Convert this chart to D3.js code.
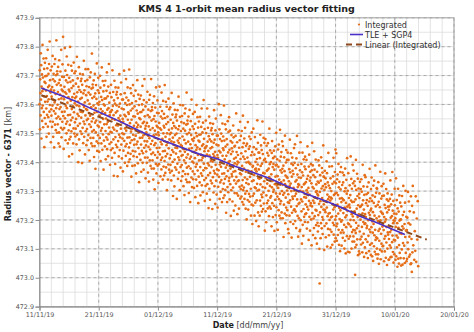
<!DOCTYPE html>
<html>
<head>
<meta charset="utf-8">
<script src="https://cdn.jsdelivr.net/npm/d3@7"></script>
<style>
  body { margin: 0; background: #fff; }
  text { font-family: "DejaVu Sans", Verdana, sans-serif; }
</style>
</head>
<body>
<svg id="chart" width="474" height="332"></svg>
<script>
// time axis
const startDate = '2019-11-11';
const endDate = '2020-01-20';
const xTickDates = ['2019-11-11', '2019-11-21', '2019-12-01', '2019-12-11', '2019-12-21', '2019-12-31', '2020-01-10', '2020-01-20'];
const yTicks = [472.9, 473.0, 473.1, 473.2, 473.3, 473.4, 473.5, 473.6, 473.7, 473.8, 473.9];

// 1-orbit means, one string per day since 11/11/19,
// metres above 473 km (radius - 6371 km)
const integratedByDay = [
  "601 718 514 687 639 562 777 617 736 482 662 587 704 543 646 806 596 693 521 654 759 574 628 723 452 678 553 744 609 698",
  "674 533 648 760 586 488 699 629 564 725 610 789 523 660 556 706 618 499 740 665 575 818 598 684 541 641 718 469 651 583",
  "561 627 731 522 660 596 768 540 687 488 616 706 577 648 451 740 607 680 530 757 568 636 511 701 587 822 552 668 502 715",
  "705 599 531 643 730 558 465 674 618 503 753 584 685 454 634 550 714 591 666 519 789 621 486 651 574 696 540 739 513 646 834",
  "560 628 446 695 618 518 661 575 795 552 642 717 476 595 683 533 637 500 766 587 702 541 606 676 465 563 737 625 510 651 420",
  "692 479 645 529 799 564 678 488 613 545 734 507 657 584 717 428 625 554 683 593 465 664 517 745 573 637 499 708 604 538",
  "622 489 715 516 672 550 627 462 597 765 495 642 567 690 526 610 400 661 560 729 479 594 650 441 534 706 619 507 575 681",
  "643 554 689 498 623 397 668 573 519 704 599 466 638 541 751 591 488 649 532 607 427 681 562 722 507 584 632 459 663 546",
  "515 581 685 476 614 550 722 494 641 442 570 660 531 602 405 694 561 634 484 711 522 590 465 655 541 776 506 622 456 669",
  "658 552 484 596 683 511 418 627 571 456 706 537 638 377 587 503 667 544 619 472 742 574 439 604 527 649 493 692 466 599",
  "523 640 436 609 561 484 699 539 658 404 584 509 626 465 568 728 518 615 443 576 681 496 550 645 374 600 475 666 531 620",
  "596 455 570 682 508 410 621 551 486 647 532 711 445 582 478 628 540 421 662 587 497 740 520 606 463 563 640 391 573 505",
  "575 442 668 469 625 503 580 415 550 718 448 595 520 643 479 563 353 614 513 682 432 547 603 394 487 659 572 460 528 634",
  "597 508 643 452 577 351 622 527 473 658 553 420 592 495 705 545 442 603 486 561 381 635 516 676 461 538 586 413 617 500",
  "482 550 368 617 540 440 583 497 717 474 564 639 398 517 605 455 559 422 688 509 624 463 528 598 387 485 659 547 432 573",
  "614 401 567 451 721 486 600 410 535 467 656 429 579 506 639 350 547 476 605 515 387 586 439 667 495 559 421 630 526 460",
  "479 593 389 558 514 437 648 492 611 361 537 462 579 418 521 684 471 568 396 529 634 449 503 598 331 553 428 619 484 573",
  "549 408 523 631 461 367 574 504 439 600 485 664 398 535 431 581 493 374 615 540 450 688 473 559 416 516 593 344 526 458",
  "437 503 607 398 536 472 644 416 563 364 492 582 453 524 333 616 483 556 406 633 444 512 387 577 463 688 428 544 378 591",
  "580 474 406 518 605 433 340 549 493 378 628 459 560 306 509 425 589 466 541 394 659 496 361 526 449 571 415 614 388 521",
  "435 503 328 570 493 393 536 450 662 427 517 592 351 470 558 408 512 375 641 462 577 416 481 551 340 438 612 500 385 526",
  "567 354 520 404 667 439 553 363 488 420 609 382 532 459 592 303 500 429 558 468 340 539 392 620 448 512 374 583 479 413",
  "497 364 590 391 547 425 502 337 472 640 370 517 442 565 401 485 283 536 435 604 354 469 525 316 409 581 494 382 450 556",
  "519 430 565 374 499 273 544 449 395 580 475 342 514 417 627 467 364 525 408 483 303 557 438 598 383 460 508 335 539 422",
  "390 456 560 351 489 425 597 369 516 317 445 535 406 477 286 569 436 509 359 586 397 465 340 530 416 641 381 497 331 544",
  "533 427 359 471 558 386 293 502 446 331 581 412 513 262 462 378 542 419 494 347 617 449 314 479 402 524 368 567 341 474",
  "398 515 311 484 436 359 574 414 533 279 459 384 501 340 443 598 393 490 318 451 556 371 425 520 258 475 350 541 406 495",
  "471 330 445 557 383 285 496 426 361 522 407 586 320 457 353 503 415 296 537 462 372 615 395 481 338 438 515 266 448 380",
  "451 318 544 345 501 379 456 291 426 586 324 471 396 519 355 439 241 490 389 558 308 423 479 270 363 535 448 336 404 510",
  "472 383 518 327 452 238 497 402 348 533 428 295 467 370 580 420 317 478 361 436 256 510 391 551 336 413 461 288 492 375",
  "357 425 243 492 415 315 458 372 601 349 439 514 273 392 480 330 434 297 563 384 499 338 403 473 262 360 534 422 307 448",
  "489 276 442 326 596 361 475 285 410 342 531 304 454 381 514 225 422 351 480 390 262 461 314 542 370 434 296 505 401 335",
  "556 346 443 271 404 509 324 378 473 214 428 303 494 359 448 351 468 264 437 389 312 527 367 486 232 412 337 454 293 396",
  "457 369 250 491 416 326 569 349 435 292 392 469 220 402 334 425 284 399 511 337 239 450 380 315 476 361 540 274 411 307",
  "491 358 431 281 508 319 387 262 452 338 561 303 419 253 466 312 378 482 273 411 347 519 291 438 239 367 457 328 399 202",
  "300 464 341 416 269 539 371 236 401 324 446 290 489 263 396 455 349 281 393 480 308 215 424 368 253 503 334 435 186 384",
  "283 387 250 516 337 452 291 356 426 215 313 487 375 260 401 310 378 196 445 368 268 411 325 545 302 392 467 226 345 433",
  "178 375 304 433 343 215 414 267 495 323 387 249 458 354 288 442 229 395 279 541 314 428 238 363 295 484 257 407 334 467",
  "361 163 412 311 480 230 345 401 192 285 457 370 258 326 432 373 240 466 267 423 301 378 213 348 516 246 393 318 441 277",
  "342 239 400 283 358 178 432 313 473 258 335 383 210 414 297 394 305 440 249 374 162 419 324 270 455 350 217 389 292 502",
  "244 391 192 320 410 281 352 166 444 311 384 234 461 272 340 215 405 291 512 256 372 206 419 265 331 435 226 364 300 472",
  "377 321 206 456 287 388 141 337 253 417 294 369 222 492 324 189 354 277 399 243 442 216 349 408 302 234 346 433 261 168",
  "289 408 154 334 259 376 215 318 478 268 365 193 326 431 246 300 395 139 350 225 416 281 370 273 390 186 359 311 234 449",
  "302 237 398 283 462 196 333 229 379 291 172 413 338 248 491 271 357 214 314 391 142 324 256 347 206 321 433 259 161 372",
  "166 301 469 199 346 271 394 230 314 118 365 264 433 183 298 354 145 238 410 323 211 279 385 326 193 419 220 376 254 331",
  "277 223 408 303 170 342 245 455 295 192 353 236 311 131 385 266 426 211 288 336 163 367 250 347 258 393 202 327 112 372",
  "247 467 224 314 389 148 267 355 205 309 172 438 259 374 213 278 348 137 235 409 297 182 323 232 300 118 367 290 190 333",
  "160 285 217 406 179 329 256 389 100 -20 297 226 355 265 137 336 189 417 245 309 171 380 276 210 364 151 317 201 458 236 350",
  "254 349 96 304 179 370 235 324 227 344 140 313 265 188 403 243 362 108 288 213 330 169 272 432 222 319 147 280 385 200",
  "224 310 167 267 344 104 277 209 300 159 274 386 212 114 325 255 190 351 236 415 149 286 182 332 244 125 366 291 201 444",
  "137 327 213 431 178 294 128 341 187 253 357 148 286 222 394 166 313 114 242 332 203 274 92 366 233 306 156 383 194 262",
  "111 276 199 321 165 364 138 271 330 224 156 268 355 183 101 299 243 128 378 209 310 84 259 175 339 216 291 144 414 246",
  "231 301 90 188 362 250 135 276 185 253 88 320 243 143 286 200 420 177 267 342 101 220 308 158 262 125 391 212 327 166",
  "143 371 199 263 125 334 230 164 318 10 105 271 155 408 190 304 114 239 171 360 133 283 210 343 78 251 180 309 219 91 290",
  "276 83 160 332 245 133 201 307 248 115 341 142 298 176 253 88 223 391 121 268 193 316 152 236 72 287 186 355 105 220",
  "188 348 133 210 258 85 289 172 269 180 315 124 249 68 294 199 145 330 225 92 264 167 377 217 114 275 158 233 79 307",
  "239 175 347 119 266 74 195 285 156 227 58 319 186 259 109 336 147 215 90 280 166 389 131 247 81 294 140 206 310 101",
  "308 136 66 252 196 81 331 162 263 48 212 128 292 169 244 97 367 199 64 229 152 274 118 317 91 224 283 177 109 221",
  "187 110 325 165 284 57 210 135 252 91 194 361 144 241 69 202 307 122 176 271 44 226 101 292 157 246 149 266 62 235",
  "134 63 247 177 112 273 158 337 71 208 104 254 166 72 288 213 123 366 146 232 89 189 266 52 199 131 222 81 196 308",
  "251 129 206 62 176 344 74 221 146 269 105 189 38 240 139 308 66 173 229 49 113 285 198 86 154 260 201 68",
  "202 42 247 152 98 283 178 45 217 120 318 170 67 228 111 186 51 260 141 301 86 163 211 57",
  "165 65 208 122 297 99 189 264 73 142 230 80 184 47 282 50 134 20 249 88",
  "318 112 226 62 161 93 282 55 205 132 265 40"
];

// TLE + SGP4, days since 11/11/19 and radius - 6371 [km]
const tleDay = [0.3, 3, 6, 9, 12, 15, 18, 21, 24, 27, 30, 33, 36, 39, 42, 45, 48, 51, 54, 57, 60, 61.7];
const tleRadius = [473.657, 473.636, 473.612, 473.583, 473.556, 473.527, 473.498, 473.474, 473.451, 473.428, 473.412,
  473.386, 473.365, 473.343, 473.315, 473.291, 473.268, 473.243, 473.214, 473.190, 473.164, 473.150];

// Linear (Integrated) trendline
const linearDay = [0.3, 65.4];
const linearRadius = [473.632, 473.132];

const legendLabels = ['Integrated', 'TLE + SGP4', 'Linear (Integrated)'];

const colors = {
  integrated: '#e66e18',
  tle: '#4b2fc6',
  linear: '#8e4a1c',
};

const parseDay = d3.utcParse('%Y-%m-%d');
const t0 = parseDay(startDate);
const dayToDate = d => new Date(t0.getTime() + d * 864e5);

const svg = d3.select('#chart');

const x = d3.scaleUtc()
  .domain([parseDay(startDate), parseDay(endDate)])
  .range([39.5, 454]);
const y = d3.scaleLinear()
  .domain([472.9, 473.9])
  .range([306.6, 17.8]);

const [x0, x1] = x.range();
const [yb, yt] = y.range();

// minor grid
const minorX = d3.range(0, 71, 2).map(dayToDate);
svg.append('g')
  .selectAll('line')
  .data(minorX)
  .enter().append('line')
  .attr('x1', d => x(d)).attr('x2', d => x(d))
  .attr('y1', yt).attr('y2', yb)
  .attr('stroke', '#dcdcdc')
  .attr('stroke-width', 0.8);

svg.append('g')
  .selectAll('line')
  .data(y.ticks(20))
  .enter().append('line')
  .attr('x1', x0).attr('x2', x1)
  .attr('y1', d => y(d)).attr('y2', d => y(d))
  .attr('stroke', '#dcdcdc')
  .attr('stroke-width', 0.8);

// major dashed grid
svg.append('g')
  .selectAll('line')
  .data(xTickDates.map(parseDay))
  .enter().append('line')
  .attr('x1', d => x(d)).attr('x2', d => x(d))
  .attr('y1', yt).attr('y2', yb)
  .attr('stroke', '#9a9a9a')
  .attr('stroke-width', 0.8)
  .attr('stroke-dasharray', '3,3');

svg.append('g')
  .selectAll('line')
  .data(yTicks)
  .enter().append('line')
  .attr('x1', x0).attr('x2', x1)
  .attr('y1', d => y(d)).attr('y2', d => y(d))
  .attr('stroke', '#9a9a9a')
  .attr('stroke-width', 0.8)
  .attr('stroke-dasharray', '3,3');

// plot frame
svg.append('rect')
  .attr('x', x0).attr('y', yt)
  .attr('width', x1 - x0).attr('height', yb - yt)
  .attr('fill', 'none')
  .attr('stroke', '#a8a8a8')
  .attr('stroke-width', 1);

// axes
const yAxis = d3.axisLeft(y)
  .tickValues(yTicks)
  .tickSize(4)
  .tickFormat(d3.format('.1f'));
const gy = svg.append('g')
  .attr('transform', `translate(${x0},0)`)
  .call(yAxis);

const xAxis = d3.axisBottom(x)
  .tickValues(xTickDates.map(parseDay))
  .tickSize(4)
  .tickFormat(d3.utcFormat('%d/%m/%y'));
const gx = svg.append('g')
  .attr('transform', `translate(0,${yb})`)
  .call(xAxis);

[gx, gy].forEach(g => {
  g.select('.domain').attr('stroke', '#8c8c8c');
  g.selectAll('.tick line').attr('stroke', '#8c8c8c');
  g.selectAll('.tick text')
    .attr('fill', '#555')
    .style('font-size', '6.4px')
    .style('font-family', '"DejaVu Sans", Verdana, sans-serif');
});
gy.selectAll('.tick text').attr('x', -5.5);
gx.selectAll('.tick text').attr('y', 6);

// points
const integrated = [];
integratedByDay.forEach((row, day) => {
  const vals = row.trim().split(/\s+/).map(Number);
  vals.forEach((m, i) => {
    integrated.push({ t: dayToDate(day + (i + 0.5) / vals.length), r: 473 + m / 1000 });
  });
});

svg.append('g')
  .selectAll('circle')
  .data(integrated)
  .enter().append('circle')
  .attr('cx', d => x(d.t))
  .attr('cy', d => y(d.r))
  .attr('r', 1.35)
  .attr('fill', colors.integrated);

const line = d3.line()
  .x(d => x(d.t))
  .y(d => y(d.r));

const linear = linearDay.map((d, i) => ({ t: dayToDate(d), r: linearRadius[i] }));
const tle = tleDay.map((d, i) => ({ t: dayToDate(d), r: tleRadius[i] }));

svg.append('path')
  .datum(linear)
  .attr('d', line)
  .attr('fill', 'none')
  .attr('stroke', colors.linear)
  .attr('stroke-width', 2)
  .attr('stroke-dasharray', '6,4');

svg.append('path')
  .datum(tle)
  .attr('d', line)
  .attr('fill', 'none')
  .attr('stroke', colors.tle)
  .attr('stroke-width', 1.6);

// legend
const legend = svg.append('g').attr('transform', 'translate(350,25)');
const rowH = 10;
legend.append('circle')
  .attr('cx', 9).attr('cy', -0.5).attr('r', 1.1)
  .attr('fill', colors.integrated);
legend.append('line')
  .attr('x1', 0).attr('x2', 13)
  .attr('y1', rowH - 0.5).attr('y2', rowH - 0.5)
  .attr('stroke', colors.tle).attr('stroke-width', 1.6);
legend.append('line')
  .attr('x1', -4).attr('x2', 13)
  .attr('y1', 2 * rowH - 0.5).attr('y2', 2 * rowH - 0.5)
  .attr('stroke', colors.linear).attr('stroke-width', 2)
  .attr('stroke-dasharray', '6,4');
legend.selectAll('text')
  .data(legendLabels)
  .enter().append('text')
  .attr('x', 15)
  .attr('y', (d, i) => i * rowH + 2.5)
  .attr('fill', '#333')
  .style('font-size', '8px')
  .text(d => d);

// titles
svg.append('text')
  .attr('x', 246.5).attr('y', 11.5)
  .attr('text-anchor', 'middle')
  .attr('fill', '#222')
  .style('font-size', '9.5px')
  .style('font-weight', 'bold')
  .text('KMS 4 1-orbit mean radius vector fitting');

const xTitle = svg.append('text')
  .attr('x', 248).attr('y', 328)
  .attr('text-anchor', 'middle')
  .attr('fill', '#222')
  .style('font-size', '8px');
xTitle.append('tspan').style('font-weight', 'bold').text('Date');
xTitle.append('tspan').attr('fill', '#444').text(' [dd/mm/yy]');

const yTitle = svg.append('text')
  .attr('transform', 'translate(10.5,164) rotate(-90)')
  .attr('text-anchor', 'middle')
  .attr('fill', '#222')
  .style('font-size', '8px');
yTitle.append('tspan').style('font-weight', 'bold').text('Radius vector - 6371');
yTitle.append('tspan').attr('fill', '#444').text(' [km]');
</script>
</body>
</html>
